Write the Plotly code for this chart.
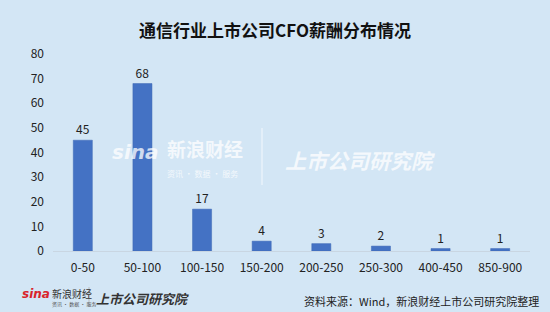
import plotly.graph_objects as go

categories = ["0-50", "50-100", "100-150", "150-200", "200-250", "250-300", "400-450", "850-900"]
counts = [45, 68, 17, 4, 3, 2, 1, 1]
y_ticks = [0, 10, 20, 30, 40, 50, 60, 70, 80]

BG = "#D3E6F5"
FONT = "Noto Sans CJK SC"
WM = "rgba(255,255,255,0.75)"

fig = go.Figure()
fig.add_trace(go.Bar(
    x=categories, y=counts,
    marker=dict(color="#4472C4", line=dict(color="#3F68B5", width=0.5)),
    width=0.32,
    text=[str(v) for v in counts], textposition="outside",
    textfont=dict(size=12, color="#222222", family=FONT),
    cliponaxis=False,
))

fig.update_layout(
    width=550, height=312,
    paper_bgcolor=BG, plot_bgcolor=BG,
    margin=dict(l=53, r=20, t=54, b=61),
    showlegend=False,
    font=dict(family=FONT, size=12, color="#222222"),
    title=dict(text="<b>通信行业上市公司CFO薪酬分布情况</b>", x=0.5, xanchor="center",
               y=0.9, yanchor="middle", font=dict(size=17, color="#111111", family=FONT)),
    xaxis=dict(showgrid=False, showline=True, linecolor="#C9D6E2", linewidth=1,
               tickfont=dict(size=12, color="#222222"), ticks="", ticklabelstandoff=6),
    yaxis=dict(range=[0, 80], tickvals=y_ticks, showgrid=False, zeroline=False,
               showline=False, tickfont=dict(size=12, color="#222222"), ticks="",
               ticklabelstandoff=8),
)

# watermark (pixel positions converted to paper coords: plot x 53..530, y 54..251)
def px(x):
    return (x - 53) / 477.0

def py(y):
    return (251 - y) / 197.0

fig.add_annotation(xref="paper", yref="paper", x=px(110), y=py(152), xanchor="left", yanchor="middle",
                   text="<b><i>sina</i></b>", showarrow=False,
                   font=dict(size=20, color=WM, family="DejaVu Sans"))
fig.add_annotation(xref="paper", yref="paper", x=px(165), y=py(148), xanchor="left", yanchor="middle",
                   text="<b>新浪财经</b>", showarrow=False,
                   font=dict(size=19, color=WM, family=FONT))
fig.add_annotation(xref="paper", yref="paper", x=px(165), y=py(173), xanchor="left", yanchor="middle",
                   text="资讯 · 数据 · 服务", showarrow=False,
                   font=dict(size=8, color=WM, family=FONT))
fig.add_shape(type="line", xref="paper", yref="paper", x0=px(262), x1=px(262), y0=py(128), y1=py(185),
              line=dict(color=WM, width=1))
fig.add_annotation(xref="paper", yref="paper", x=px(283), y=py(160), xanchor="left", yanchor="middle",
                   text="<b><i>上市公司研究院</i></b>", showarrow=False,
                   font=dict(size=21, color=WM, family=FONT))

# footer logo
fig.add_annotation(xref="paper", yref="paper", x=px(20), y=py(294), xanchor="left", yanchor="middle",
                   text="<b><i><span style='color:#D9242B'>sina</span></i></b>", showarrow=False,
                   font=dict(size=12, family="DejaVu Sans"))
fig.add_annotation(xref="paper", yref="paper", x=px(50), y=py(293), xanchor="left", yanchor="middle",
                   text="新浪财经", showarrow=False, font=dict(size=10, color="#333333", family=FONT))
fig.add_annotation(xref="paper", yref="paper", x=px(50), y=py(304), xanchor="left", yanchor="middle",
                   text="资讯 · 数据 · 服务", showarrow=False, font=dict(size=5, color="#555555", family=FONT))
fig.add_shape(type="line", xref="paper", yref="paper", x0=px(89), x1=px(89), y0=py(287), y1=py(307),
              line=dict(color="#BBBBBB", width=1))
fig.add_annotation(xref="paper", yref="paper", x=px(94), y=py(298), xanchor="left", yanchor="middle",
                   text="<b><i>上市公司研究院</i></b>", showarrow=False,
                   font=dict(size=13, color="#333333", family=FONT))
fig.add_annotation(xref="paper", yref="paper", x=px(541), y=py(301), xanchor="right", yanchor="middle",
                   text="资料来源：Wind，新浪财经上市公司研究院整理", showarrow=False,
                   font=dict(size=11, color="#222222", family=FONT))

fig.write_html("out.html")
